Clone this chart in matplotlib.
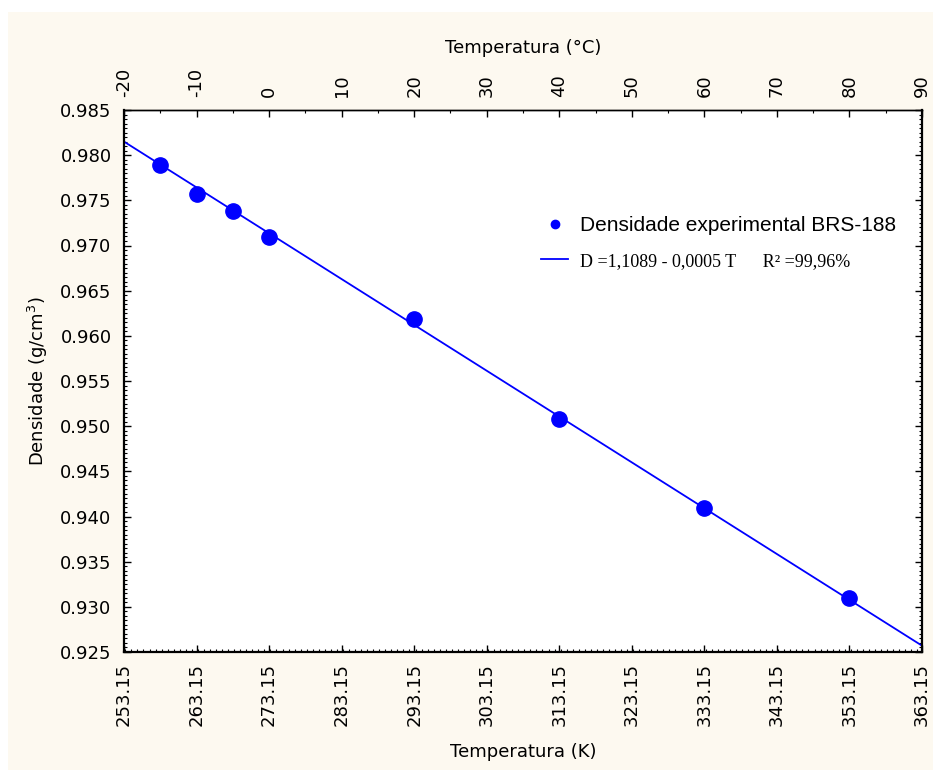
import matplotlib
matplotlib.use("Agg")
import matplotlib.pyplot as plt
from matplotlib.ticker import MultipleLocator, FixedLocator, FormatStrFormatter
from matplotlib.lines import Line2D
from matplotlib.patches import Rectangle

# ---- data ----
temp_K = [258.15, 263.15, 268.15, 273.15, 293.15, 313.15, 333.15, 353.15]
density = [0.9789, 0.9757, 0.9738, 0.9709, 0.9619, 0.9508, 0.9409, 0.9310]
fit_T = [253.15, 363.15]
fit_D = [0.9815, 0.9257]
bottom_ticks = [253.15, 263.15, 273.15, 283.15, 293.15, 303.15, 313.15,
                323.15, 333.15, 343.15, 353.15, 363.15]
top_ticks = [-20, -10, 0, 10, 20, 30, 40, 50, 60, 70, 80, 90]
y_ticks = [0.925, 0.930, 0.935, 0.940, 0.945, 0.950, 0.955, 0.960,
           0.965, 0.970, 0.975, 0.980, 0.985]
label_points = "Densidade experimental BRS-188"
label_fit = "D =1,1089 - 0,0005 T      R\u00b2 =99,96%"

plt.rcParams['font.family'] = ['DejaVu Sans']

W, H = 933, 770
fig = plt.figure(figsize=(W / 100, H / 100), dpi=100, facecolor='white')
cream = '#FDF9F0'
fig.patches.append(Rectangle((8 / W, 0), 1, 1 - 12 / H, transform=fig.transFigure,
                             facecolor=cream, edgecolor='none', zorder=-10))

left, right, top, bottom = 124, 922, 110, 652
ax = fig.add_axes([left / W, 1 - bottom / H, (right - left) / W, (bottom - top) / H])
ax.set_facecolor('white')

ax.plot(fit_T, fit_D, color='#0000FF', lw=1.3, zorder=2)
ax.plot(temp_K, density, 'o', color='#0000FF', markersize=11, zorder=3)

ax.set_xlim(253.15, 363.15)
ax.set_ylim(0.925, 0.985)

ax.xaxis.set_major_locator(FixedLocator(bottom_ticks))
ax.xaxis.set_minor_locator(MultipleLocator(10 / 12))
ax.xaxis.set_major_formatter(FormatStrFormatter('%.2f'))
ax.yaxis.set_major_locator(FixedLocator(y_ticks))
ax.yaxis.set_minor_locator(MultipleLocator(0.0005))
ax.yaxis.set_major_formatter(FormatStrFormatter('%.3f'))

for lbl in ax.get_xticklabels():
    lbl.set_rotation(90)

ax.tick_params(axis='both', which='major', direction='in', length=5, width=1,
               labelsize=13, pad=9, colors='black')
ax.tick_params(axis='both', which='minor', direction='in', length=2.5, width=0.8)
ax.tick_params(axis='y', which='both', right=True)
ax.tick_params(axis='x', which='major', pad=8)

for s in ['left', 'bottom', 'right']:
    ax.spines[s].set_linewidth(1.6)
ax.spines['top'].set_linewidth(1.0)

secax = ax.secondary_xaxis('top', functions=(lambda k: k - 273.15, lambda c: c + 273.15))
secax.xaxis.set_major_locator(FixedLocator(top_ticks))
secax.xaxis.set_minor_locator(MultipleLocator(5))
secax.xaxis.set_major_formatter(FormatStrFormatter('%d'))
secax.tick_params(axis='x', which='major', direction='in', length=5, width=1,
                  labelsize=13, pad=9, labelrotation=90)
secax.tick_params(axis='x', which='minor', direction='in', length=2.5, width=0.8)
secax.spines['top'].set_linewidth(1.0)

ax.set_xlabel('Temperatura (K)', fontsize=13)
secax.set_xlabel('Temperatura (\u00b0C)', fontsize=13)
ax.set_ylabel('Densidade (g/cm$^3$)', fontsize=13)
ph = bottom - top
pw = right - left
ax.xaxis.set_label_coords(0.5, -(743 - bottom) / ph, transform=ax.transAxes)
secax.xaxis.set_label_coords(0.5, 1 + (top - 53) / ph, transform=ax.transAxes)
ax.yaxis.set_label_coords(-(left - 50) / pw, 0.5, transform=ax.transAxes)

handles = [Line2D([], [], ls='none', marker='o', color='#0000FF', markersize=6),
           Line2D([], [], color='#0000FF', lw=1.3)]
leg = ax.legend(handles, [label_points, label_fit], loc='upper left',
                bbox_to_anchor=((541 - left) / pw, (bottom - 216) / ph),
                frameon=False, fontsize=15, handlelength=1.3, handletextpad=0.55,
                borderpad=0, borderaxespad=0, labelspacing=0.8,
                prop={'family': ['Liberation Sans', 'DejaVu Sans'], 'size': 15})
t2 = leg.get_texts()[1]
t2.set_fontfamily(['Liberation Serif', 'DejaVu Serif'])
t2.set_fontsize(13)

fig.savefig('out.png', dpi=100, facecolor=fig.get_facecolor())
